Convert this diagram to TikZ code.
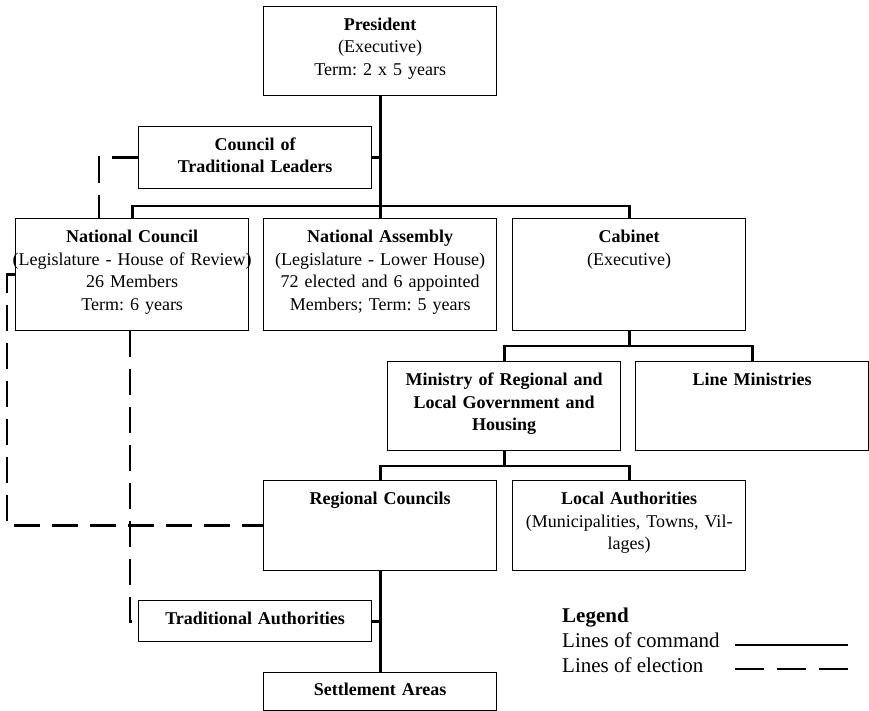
\documentclass[tikz,border=0pt]{standalone}
\usepackage{fontspec}
\setmainfont{Liberation Serif}
\frenchspacing
\begin{document}
\begin{tikzpicture}[x=1pt,y=-1pt,
  box/.style={draw, line width=1.3pt, minimum width=233pt, inner sep=0pt, anchor=north west},
  txt/.style={anchor=base, text width=320pt, align=center, inner sep=0pt,
              font=\fontsize{18}{22.5}\selectfont},
  legtxt/.style={anchor=base west, inner sep=0pt, font=\fontsize{21}{25}\selectfont},
  cmd/.style={line width=2.8pt, line join=miter},
  elect/.style={line width=2.8pt, line join=miter, dash pattern=on 26pt off 12pt},
  legelect/.style={line width=2.8pt, dash pattern=on 29pt off 13pt},
]
\useasboundingbox (0,0) rectangle (869,711);

% ---- boxes ----
\node[box, minimum height=89pt]  (pres)   at (263,6)   {};
\node[box, minimum height=62pt]  (ctl)    at (138,126) {};
\node[box, minimum height=112pt] (nc)     at (15,218)  {};
\node[box, minimum height=112pt] (na)     at (263,218) {};
\node[box, minimum height=112pt] (cab)    at (512,218) {};
\node[box, minimum height=89pt]  (mrlg)   at (387,361) {};
\node[box, minimum height=89pt]  (lm)     at (635,361) {};
\node[box, minimum height=90pt]  (rc)     at (263,480) {};
\node[box, minimum height=90pt]  (la)     at (512,480) {};
\node[box, minimum height=41pt]  (ta)     at (138,600) {};
\node[box, minimum height=38pt]  (sa)     at (263,672) {};

% ---- box texts ----
\node[txt] (prest) at ([yshift=-24.5pt]pres.north) {\textbf{President}\\(Executive)\\Term: 2 x 5 years};
\node[txt] (ctlt)  at ([yshift=-24.5pt]ctl.north)  {\textbf{Council of}\\\textbf{Traditional Leaders}};
\node[txt] (nct)   at ([yshift=-24.5pt]nc.north)   {\textbf{National Council}\\(Legislature - House of Review)\\26 Members\\Term: 6 years};
\node[txt] (nat)   at ([yshift=-24.5pt]na.north)   {\textbf{National Assembly}\\(Legislature - Lower House)\\72 elected and 6 appointed\\Members; Term: 5 years};
\node[txt] (cabt)  at ([yshift=-24.5pt]cab.north)  {\textbf{Cabinet}\\(Executive)};
\node[txt] (mrlgt) at ([yshift=-24.5pt]mrlg.north) {\textbf{Ministry of Regional and}\\\textbf{Local Government and}\\\textbf{Housing}};
\node[txt] (lmt)   at ([yshift=-24.5pt]lm.north)   {\textbf{Line Ministries}};
\node[txt] (rct)   at ([yshift=-24.5pt]rc.north)   {\textbf{Regional Councils}};
\node[txt] (lat)   at ([yshift=-24.5pt]la.north)   {\textbf{Local Authorities}\\(Municipalities, Towns, Vil-\\lages)};
\node[txt] (tat)   at ([yshift=-24.5pt]ta.north)   {\textbf{Traditional Authorities}};
\node[txt] (sat)   at ([yshift=-23.5pt]sa.north)   {\textbf{Settlement Areas}};

% ---- lines of command ----
\coordinate (bar1) at (0,206);
\coordinate (bar2) at (0,346);
\coordinate (bar3) at (0,466);
\draw[cmd] (pres.south) -- (na.north);
\draw[cmd] (ctl.east) -- (ctl.east -| pres.south);
\draw[cmd] (nc.north) -- (nc.north |- bar1) -- (cab.north |- bar1) -- (cab.north);
\draw[cmd] (cab.south) -- (cab.south |- bar2);
\draw[cmd] (mrlg.north) -- (mrlg.north |- bar2) -- (lm.north |- bar2) -- (lm.north);
\draw[cmd] (mrlg.south) -- (mrlg.south |- bar3);
\draw[cmd] (rc.north) -- (rc.north |- bar3) -- (la.north |- bar3) -- (la.north);
\draw[cmd] (rc.south) -- (sa.north);
\draw[cmd] (ta.east) -- (ta.east -| rc.south);

% ---- lines of election ----
\coordinate (e1) at (99,0);
\coordinate (e2) at (7,0);
\coordinate (e3) at (130,0);
\draw[elect] (ctl.west) -| (e1 |- nc.north);
\draw[elect] (nc.west) -| (e2 |- rc.west) -- (rc.west);
\draw[elect] (e3 |- nc.south) |- (ta.west);

% ---- legend ----
\node[legtxt] (leg)  at (562,622) {\textbf{Legend}};
\node[legtxt] (legc) at (562,647) {Lines of command};
\node[legtxt] (lege) at (562,672) {Lines of election};
\coordinate (cmdA) at (735,645);
\coordinate (cmdB) at (848,645);
\coordinate (eleA) at (735,669);
\coordinate (eleB) at (848,669);
\draw[cmd] (cmdA) -- (cmdB);
\draw[legelect] (eleA) -- (eleB);
\end{tikzpicture}
\end{document}
